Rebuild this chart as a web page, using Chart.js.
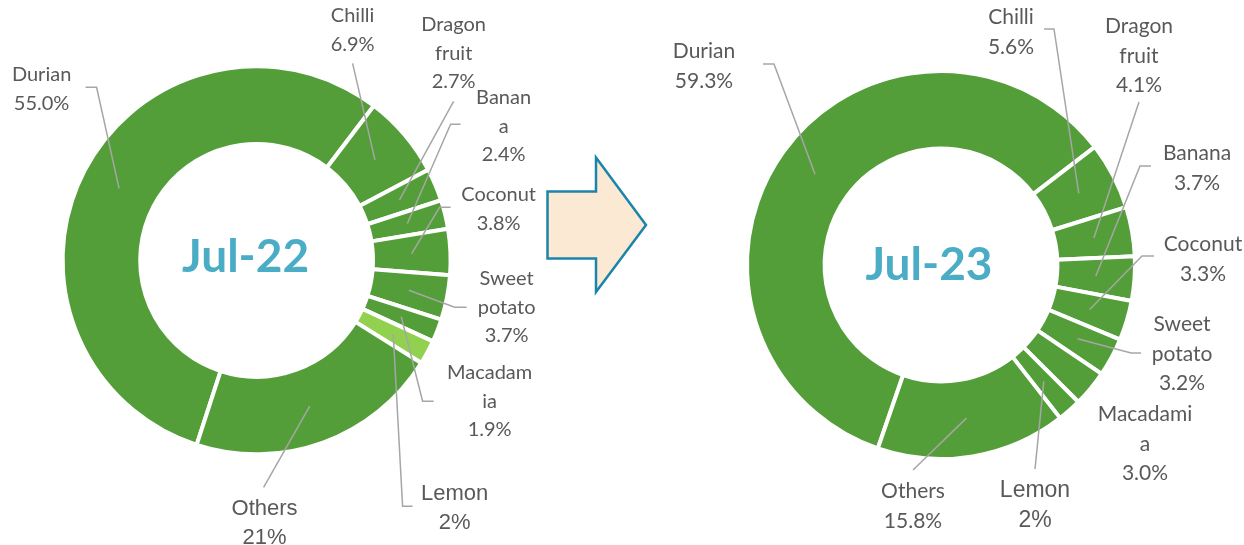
<!DOCTYPE html>
<html>
<head>
<meta charset="utf-8">
<script src="https://cdn.jsdelivr.net/npm/chart.js@4.4.1/dist/chart.umd.min.js"></script>
<style>
  body { margin: 0; background: #fff; }
  #page { position: relative; width: 1244px; height: 545px; overflow: hidden; }
  canvas { position: absolute; top: 0; }
  #left { left: 0; }
  #right { left: 620px; }
  #arrow { position: absolute; left: 0; top: 0; }
</style>
</head>
<body>
<div id="page">
  <canvas id="left" width="620" height="545"></canvas>
  <canvas id="right" width="624" height="545"></canvas>
  <svg id="arrow" width="1244" height="545">
    <polygon points="547.5,191.5 596,191.5 596,157.5 646,225 596,292 596,258.5 547.5,258.5"
      fill="#fce9d3" stroke="#1b84ab" stroke-width="2.5" stroke-linejoin="miter"/>
  </svg>
</div>
<script>
const categories = ['Durian', 'Chilli', 'Dragon fruit', 'Banana', 'Coconut', 'Sweet potato', 'Macadamia', 'Lemon', 'Others'];

const shares2022 = [55.0, 6.9, 2.7, 2.4, 3.8, 3.7, 1.9, 2, 21];
const shares2023 = [59.3, 5.6, 4.1, 3.7, 3.3, 3.2, 3.0, 2, 15.8];

const valueText2022 = ['55.0%', '6.9%', '2.7%', '2.4%', '3.8%', '3.7%', '1.9%', '2%', '21%'];
const valueText2023 = ['59.3%', '5.6%', '4.1%', '3.7%', '3.3%', '3.2%', '3.0%', '2%', '15.8%'];

// how Excel wrapped the category names in each chart
const nameLines2022 = [['Durian'], ['Chilli'], ['Dragon', 'fruit'], ['Banan', 'a'], ['Coconut'], ['Sweet', 'potato'], ['Macadam', 'ia'], ['Lemon'], ['Others']];
const nameLines2023 = [['Durian'], ['Chilli'], ['Dragon', 'fruit'], ['Banana'], ['Coconut'], ['Sweet', 'potato'], ['Macadami', 'a'], ['Lemon'], ['Others']];

const GREEN = '#549e39';
const LIGHT_GREEN = '#92d050';
const TEXT = '#595959';
const LEADER = '#a6a6a6';

// label placement, relative to the ring centre: first baseline centre, then leader elbow points
const labelSpots2022 = [[-215, -179], [96, -238], [197, -229], [247, -156], [242, -59], [250, 25], [233, 119], [198, 240], [8, 255]];
const leaders2022 = [
  [[-171, -173], [-160, -173]], [[96, -197]], [[197, -159]], [[204, -136], [194, -136]],
  [[194, -53], [183, -53]], [[210, 47], [198, 47]], [[177, 141], [166, 141]], [[156, 246], [146, 246]], [[7, 227]]
];
const arialLabels2022 = [false, false, false, false, false, false, false, true, true];

const labelSpots2023 = [[-237, -207], [70, -241], [198, -232], [256, -105], [262, -14], [241, 66], [204, 156], [94, 232], [-28, 233]];
const leaders2023 = [
  [[-178, -201], [-167, -201]], [[103, -236], [113, -236]], [[198, -163]], [[210, -99], [199, -99]],
  [[213, -9], [201, -9]], [[200, 88], [190, 88]], null, [[94, 204]], [[-28, 205]]
];
const arialLabels2023 = [false, false, false, false, false, false, false, true, false];

const labelPlugin = {
  id: 'sliceLabels',
  afterDraw(chart) {
    const cfg = chart.options.plugins.sliceLabels;
    const ctx = chart.ctx;
    const arcs = chart.getDatasetMeta(0).data;
    const cx = arcs[0].x, cy = arcs[0].y;
    ctx.save();
    // centre title
    ctx.fillStyle = '#4bacc6';
    ctx.font = 'bold 46px Lato';
    ctx.textAlign = 'center';
    ctx.textBaseline = 'alphabetic';
    ctx.fillText(cfg.title, cx + cfg.titleShift[0], cy + cfg.titleShift[1]);

    // leader lines
    ctx.strokeStyle = LEADER;
    ctx.lineWidth = 1.5;
    arcs.forEach((arc, i) => {
      const pts = cfg.leaders[i];
      if (!pts) return;
      const end = arc.tooltipPosition();
      ctx.beginPath();
      ctx.moveTo(cx + pts[0][0], cy + pts[0][1]);
      pts.slice(1).forEach(p => ctx.lineTo(cx + p[0], cy + p[1]));
      ctx.lineTo(end.x, end.y);
      ctx.stroke();
    });

    // texts
    ctx.fillStyle = TEXT;
    arcs.forEach((arc, i) => {
      const lines = cfg.names[i].concat([cfg.values[i]]);
      ctx.font = cfg.arial[i] ? cfg.arialSize + 'px "Liberation Sans", Arial' : cfg.size + 'px Lato';
      const [dx, dy] = cfg.spots[i];
      lines.forEach((t, k) => ctx.fillText(t, cx + dx, cy + dy + k * cfg.lineHeight));
    });
    ctx.restore();
  }
};

function ringPadding(canvasW, canvasH, cx, cy, half) {
  return { left: cx - half, right: canvasW - cx - half, top: cy - half, bottom: canvasH - cy - half };
}

function drawRing(id, shares, colors, rotation, padding, labels) {
  return new Chart(document.getElementById(id), {
    type: 'doughnut',
    plugins: [labelPlugin],
    data: {
      labels: categories,
      datasets: [{
        data: shares,
        backgroundColor: colors,
        borderColor: '#ffffff',
        borderWidth: 4,
      }]
    },
    options: {
      responsive: false,
      animation: false,
      events: [],
      cutout: '60%',
      rotation: rotation,
      layout: { padding: padding },
      plugins: {
        legend: { display: false },
        tooltip: { enabled: false },
        sliceLabels: labels,
      },
    },
  });
}

const colors2022 = categories.map(c => c === 'Lemon' ? LIGHT_GREEN : GREEN);
const colors2023 = categories.map(() => GREEN);

drawRing('left', shares2022, colors2022, 198, ringPadding(620, 545, 256.6, 260.3, 196), {
  title: 'Jul-22', titleShift: [-11, 12],
  names: nameLines2022, values: valueText2022,
  spots: labelSpots2022, leaders: leaders2022, arial: arialLabels2022,
  size: 20, arialSize: 22, lineHeight: 28.5,
});

drawRing('right', shares2023, colors2023, 199, ringPadding(624, 545, 321, 265, 196), {
  title: 'Jul-23', titleShift: [-12, 15],
  names: nameLines2023, values: valueText2023,
  spots: labelSpots2023, leaders: leaders2023, arial: arialLabels2023,
  size: 21, arialSize: 23, lineHeight: 29.5,
});
</script>
</body>
</html>
